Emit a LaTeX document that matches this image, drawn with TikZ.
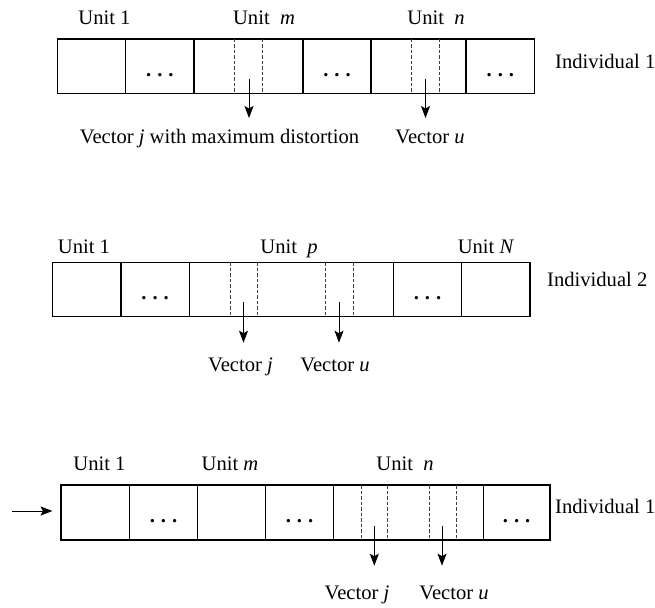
\documentclass[tikz,border=0pt]{standalone}
\usepackage{fontspec}
\setmainfont{Liberation Serif}
\usetikzlibrary{arrows.meta}
\newcommand\ucell[5]{\node[cell, minimum width={(#3)-(#2)}, minimum height={(#5)-(#4)}] (#1) at ({((#2)+(#3))/2},{((#4)+(#5))/2}) {};}
\newcommand\udots[1]{\node[dotlbl] (#1dots) at ([yshift=-10pt]#1.center) {\textbf{.\hspace{6pt}.\hspace{6pt}.}};}
\newcommand\udash[3]{\draw[dashln] (#1,#2) -- (#1,#3);}
\begin{document}
\begin{tikzpicture}[x=1pt,y=-1pt,
  cell/.style={draw, line width=1.3pt, rectangle, inner sep=0pt, outer sep=0pt},
  dashln/.style={line width=0.7pt, black!75, dash pattern=on 3.5pt off 2pt},
  lbl/.style={font=\fontsize{20.6}{24}\selectfont, inner sep=0pt, anchor=base},
  lblw/.style={lbl, anchor=base west},
  dotlbl/.style={font=\fontsize{20.6}{24}\selectfont, inner sep=0pt, anchor=base},
  vec/.style={-{Stealth[length=12pt,width=9pt,inset=2.5pt]}, line width=0.9pt}]
\useasboundingbox (0,0) rectangle (655,607);

% ---------- Row 1 ----------
\ucell{a1}{57.3}{125.7}{39}{93.7}
\ucell{a2}{125.7}{194}{39}{93.7}
\ucell{a3}{194}{303}{39}{93.7}
\ucell{a4}{303}{371}{39}{93.7}
\ucell{a5}{371}{466}{39}{93.7}
\ucell{a6}{466}{534.7}{39}{93.7}
\udots{a2}\udots{a4}\udots{a6}
\udash{234.7}{39}{93.7}\udash{262}{39}{93.7}
\udash{411.7}{39}{93.7}\udash{439}{39}{93.7}
\node[lbl] (a1u) at (104.5,25) {Unit 1};
\node[lbl] (a3u) at (264,25) {Unit\ \ \textit{m}};
\node[lbl] (a5u) at (436,25) {Unit\ \ \textit{n}};
\node[lblw] (aind) at (555,68.5) {Individual 1};
\node[lbl] (avj) at (219.5,143.3) {Vector \textit{j} with maximum distortion};
\node[lbl] (avu) at (430,143.3) {Vector \textit{u}};
\coordinate (aj0) at (249,79); \coordinate (aj1) at (249,118);
\coordinate (au0) at (425.5,79); \coordinate (au1) at (425.5,118);
\draw[vec] (aj0) -- (aj1);
\draw[vec] (au0) -- (au1);

% ---------- Row 2 ----------
\ucell{b1}{52.7}{121}{262.3}{316.7}
\ucell{b2}{121}{189.3}{262.3}{316.7}
\ucell{b3}{189.3}{393.3}{262.3}{316.7}
\ucell{b4}{393.3}{461.7}{262.3}{316.7}
\ucell{b5}{461.7}{530}{262.3}{316.7}
\udots{b2}\udots{b4}
\udash{230}{262.3}{316.7}\udash{257.3}{262.3}{316.7}
\udash{325.7}{262.3}{316.7}\udash{353}{262.3}{316.7}
\node[lbl] (b1u) at (84,253) {Unit 1};
\node[lbl] (b3u) at (289,253) {Unit\ \ \textit{p}};
\node[lbl] (b5u) at (486,253) {Unit \textit{N}};
\node[lblw] (bind) at (547,286.7) {Individual 2};
\node[lbl] (bvj) at (240.5,371.7) {Vector \textit{j}};
\node[lbl] (bvu) at (335,371.7) {Vector \textit{u}};
\coordinate (bj0) at (243.5,301.7); \coordinate (bj1) at (243.5,342.7);
\coordinate (bu0) at (339,301.7); \coordinate (bu1) at (339,342.7);
\draw[vec] (bj0) -- (bj1);
\draw[vec] (bu0) -- (bu1);

% ---------- Row 3 ----------
\ucell{c1}{61}{129.3}{485}{540}
\ucell{c2}{129.3}{197.7}{485}{540}
\ucell{c3}{197.7}{265.3}{485}{540}
\ucell{c4}{265.3}{333.7}{485}{540}
\ucell{c5}{333.7}{483.3}{485}{540}
\ucell{c6}{483.3}{550}{485}{540}
\udots{c2}\udots{c4}\udots{c6}
\udash{361}{485}{540}\udash{387.7}{485}{540}
\udash{429}{485}{540}\udash{456}{485}{540}
\node[lbl] (c1u) at (99.5,470) {Unit 1};
\node[lbl] (c3u) at (230,470) {Unit \textit{m}};
\node[lbl] (c5u) at (405,470) {Unit\ \ \textit{n}};
\node[lblw] (cind) at (555,513.3) {Individual 1};
\node[lbl] (cvj) at (357,599.3) {Vector \textit{j}};
\node[lbl] (cvu) at (454,599.3) {Vector \textit{u}};
\coordinate (cj0) at (374.3,525.7); \coordinate (cj1) at (374.3,565.7);
\coordinate (cu0) at (442,525.7); \coordinate (cu1) at (442,565.7);
\draw[vec] (cj0) -- (cj1);
\draw[vec] (cu0) -- (cu1);
\coordinate (inp) at (12.3,511);
\draw[vec, shorten >=8.5pt] (inp) -- (inp -| c1.west);
\end{tikzpicture}
\end{document}
